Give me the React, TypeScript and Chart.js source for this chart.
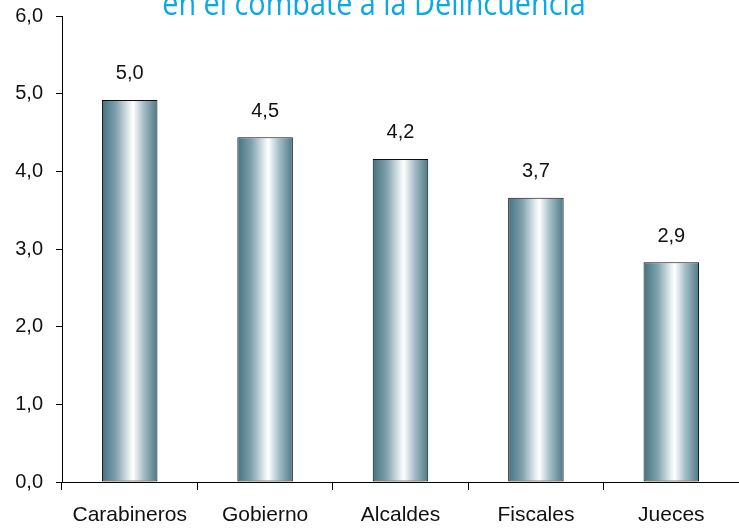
import React, { useEffect, useRef } from "react";
import { Chart, registerables } from "chart.js";

Chart.register(...registerables);

const categories = ["Carabineros", "Gobierno", "Alcaldes", "Fiscales", "Jueces"];
const values = [4.92, 4.44, 4.16, 3.66, 2.83];
const valueLabels = ["5,0", "4,5", "4,2", "3,7", "2,9"];
const yTicks = [0, 1, 2, 3, 4, 5, 6];
const titleText = "en el combate a la Delincuencia";

const BAR_PCT = 0.41;

export default function App() {
  const ref = useRef<HTMLCanvasElement | null>(null);

  useEffect(() => {
    const canvas = ref.current;
    if (!canvas) return;

    const labelPlugin = {
      id: "valueLabels",
      afterDatasetsDraw(chart: any) {
        const ctx = chart.ctx;
        const meta = chart.getDatasetMeta(0);
        ctx.save();
        ctx.font = '20px "Liberation Sans", Arial, sans-serif';
        ctx.fillStyle = "#111";
        ctx.textAlign = "center";
        ctx.textBaseline = "middle";
        meta.data.forEach((el: any, i: number) => {
          ctx.fillText(valueLabels[i], el.x, el.y - 26);
        });
        ctx.restore();
      },
    };

    const titlePlugin = {
      id: "clippedTitle",
      afterDraw(chart: any) {
        const ctx = chart.ctx;
        ctx.save();
        ctx.font = '32px "Open Sans", sans-serif';
        ctx.fillStyle = "#0aa8e6";
        ctx.textAlign = "center";
        ctx.textBaseline = "alphabetic";
        ctx.translate(374, 15);
        ctx.scale(0.9, 1);
        ctx.fillText(titleText, 0, 0);
        ctx.restore();
      },
    };

    const chart = new Chart(canvas, {
      type: "bar",
      data: {
        labels: categories,
        datasets: [
          {
            data: values,
            borderColor: "#0d0d0d",
            borderWidth: 1,
            borderSkipped: false,
            categoryPercentage: 1,
            barPercentage: BAR_PCT,
            backgroundColor: (c: any) => {
              const chart = c.chart;
              const xs = chart.scales?.x;
              if (!xs || c.dataIndex == null) return "#7a9eab";
              const cx = xs.getPixelForValue(c.dataIndex);
              const w = (xs.width / categories.length) * BAR_PCT;
              if (!Number.isFinite(cx) || !Number.isFinite(w) || w <= 0) return "#7a9eab";
              const g = chart.ctx.createLinearGradient(cx - w / 2, 0, cx + w / 2, 0);
              g.addColorStop(0, "#44717f");
              g.addColorStop(0.25, "#7fa1ad");
              g.addColorStop(0.5, "#e8f0f2");
              g.addColorStop(0.56, "#ffffff");
              g.addColorStop(0.75, "#a5bec7");
              g.addColorStop(1, "#4d7886");
              return g;
            },
          },
        ],
      },
      options: {
        animation: false,
        responsive: false,
        maintainAspectRatio: false,
        layout: { padding: { top: 16, left: 0, right: 0, bottom: 0 } },
        plugins: {
          legend: { display: false },
          tooltip: { enabled: false },
          title: { display: false },
        },
        scales: {
          x: {
            type: "category",
            offset: true,
            grid: {
              offset: true,
              drawOnChartArea: false,
              drawTicks: true,
              tickLength: 8,
              color: "#000",
              lineWidth: 1,
            },
            border: { display: true, color: "#000", width: 1 },
            ticks: {
              color: "#111",
              padding: 13,
              maxRotation: 0,
              autoSkip: false,
              font: { family: '"Liberation Sans", Arial, sans-serif', size: 21 },
            },
            afterFit: (s: any) => {
              s.height = 48;
              s.paddingLeft = 0;
              s.paddingRight = 0;
            },
          },
          y: {
            min: 0,
            max: 6,
            afterBuildTicks: (s: any) => {
              s.ticks = yTicks.map((v) => ({ value: v }));
            },
            grid: {
              drawOnChartArea: false,
              drawTicks: true,
              tickLength: 6,
              color: "#000",
              lineWidth: 1,
            },
            border: { display: true, color: "#000", width: 1 },
            ticks: {
              color: "#111",
              padding: 13,
              callback: (v: any) => Number(v).toFixed(1).replace(".", ","),
              font: { family: '"Liberation Sans", Arial, sans-serif', size: 20 },
            },
            afterFit: (s: any) => {
              s.width = 62;
              s.paddingTop = 0;
              s.paddingBottom = 0;
            },
          },
        },
      },
      plugins: [labelPlugin, titlePlugin],
    });

    return () => chart.destroy();
  }, []);

  return (
    <div style={{ position: "absolute", left: 0, top: 0, width: 739, height: 530, background: "#fff" }}>
      <canvas ref={ref} width={739} height={530} />
    </div>
  );
}
